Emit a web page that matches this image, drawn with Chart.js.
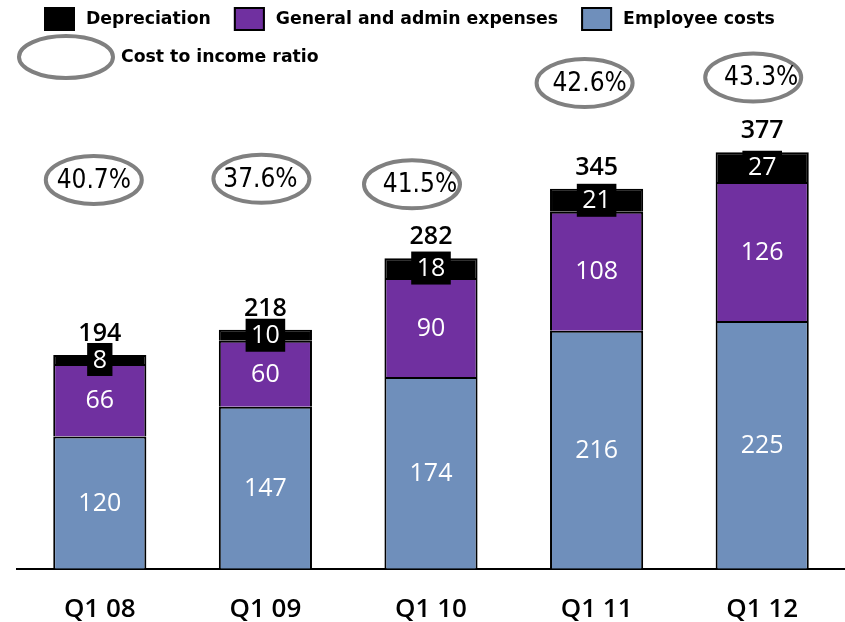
<!DOCTYPE html>
<html>
<head>
<meta charset="utf-8">
<script src="https://cdn.jsdelivr.net/npm/chart.js@4.4.1/dist/chart.umd.min.js"></script>
<style>
  html, body { margin: 0; padding: 0; background: #fff; }
</style>
</head>
<body>
<canvas id="costChart" width="845" height="622"></canvas>
<script>
// Cost breakdown per quarter
var quarters = ['Q1 08', 'Q1 09', 'Q1 10', 'Q1 11', 'Q1 12'];
var employeeCosts = [120, 147, 174, 216, 225];
var adminExpenses = [66, 60, 90, 108, 126];
var depreciation = [8, 10, 18, 21, 27];
var totalCosts = [194, 218, 282, 345, 377];
var costIncomeRatio = [40.7, 37.6, 41.5, 42.6, 43.3];

// Where the ratio ellipses sit (axis units for height, pixels for nudges)
var ellipseLevel = [353, 354, 349, 441, 446];
var ellipseDx = [-6, -4, -19, -12, -9];
var ellipseTextDx = [0, -1, 8, 5, 8];

var BLUE = '#6f8fbb';
var PURPLE = '#7030a0';
var GREY = '#808080';

// Value labels, totals and cost/income ellipses
var labelPlugin = {
    id: 'costLabels',
    afterDatasetsDraw: function (chart) {
        var ctx = chart.ctx;
        var yScale = chart.scales.y;
        ctx.save();
        ctx.textAlign = 'center';
        ctx.textBaseline = 'middle';
        ctx.font = '25px "Open Sans"';
        chart.data.datasets.forEach(function (ds, di) {
            chart.getDatasetMeta(di).data.forEach(function (bar, i) {
                var text = String(ds.data[i]);
                var cy = (bar.y + bar.base) / 2;
                if (di === 2) {
                    var w = ctx.measureText(text).width + 11;
                    ctx.fillStyle = '#000';
                    ctx.fillRect(bar.x - w / 2, cy - 16.5, w, 33);
                }
                ctx.fillStyle = '#fff';
                ctx.fillText(text, bar.x, cy + 1);
            });
        });

        // totals above the bars
        ctx.fillStyle = '#000';
        ctx.font = '600 25px "Open Sans"';
        ctx.textBaseline = 'alphabetic';
        chart.getDatasetMeta(2).data.forEach(function (bar, i) {
            ctx.fillText(String(totalCosts[i]), bar.x, bar.y - 14);
        });

        // cost to income ratio ellipses
        ctx.textBaseline = 'middle';
        chart.getDatasetMeta(0).data.forEach(function (bar, i) {
            var cx = bar.x + ellipseDx[i];
            var cy = yScale.getPixelForValue(ellipseLevel[i]);
            ctx.strokeStyle = GREY;
            ctx.lineWidth = 4;
            ctx.beginPath();
            ctx.ellipse(cx, cy, 48, 24, 0, 0, Math.PI * 2);
            ctx.stroke();
            ctx.fillStyle = '#000';
            ctx.font = '26px "DejaVu Sans Condensed"';
            ctx.fillText(costIncomeRatio[i].toFixed(1) + '%', cx + ellipseTextDx[i], cy + 1);
        });
        ctx.restore();
    },
    afterDraw: function (chart) {
        // legend, drawn by hand to keep the two-row layout
        var ctx = chart.ctx;
        ctx.save();
        ctx.font = 'bold 17.3px "DejaVu Sans"';
        ctx.textBaseline = 'middle';
        ctx.textAlign = 'left';
        var x = 44;
        [2, 1, 0].forEach(function (di) {
            var ds = chart.data.datasets[di];
            ctx.fillStyle = ds.backgroundColor;
            ctx.fillRect(x, 7, 31, 24);
            ctx.strokeStyle = '#000';
            ctx.lineWidth = 2;
            ctx.strokeRect(x + 1, 8, 29, 22);
            ctx.fillStyle = '#000';
            ctx.fillText(ds.label, x + 42, 20);
            x = x + 42 + ctx.measureText(ds.label).width + 23;
        });
        ctx.strokeStyle = GREY;
        ctx.lineWidth = 4;
        ctx.beginPath();
        ctx.ellipse(66, 57, 47, 21, 0, 0, Math.PI * 2);
        ctx.stroke();
        ctx.fillStyle = '#000';
        ctx.fillText('Cost to income ratio', 121, 58);
        ctx.restore();
    }
};

var ctx = document.getElementById('costChart').getContext('2d');

var costChart = new Chart(ctx, {
    type: 'bar',
    data: {
        labels: quarters,
        datasets: [
            { label: 'Employee costs', data: employeeCosts, backgroundColor: BLUE },
            { label: 'General and admin expenses', data: adminExpenses, backgroundColor: PURPLE },
            { label: 'Depreciation', data: depreciation, backgroundColor: '#000' }
        ]
    },
    options: {
        responsive: false,
        animation: false,
        layout: { padding: { top: 40, left: 17, right: 0, bottom: -28 } },
        datasets: {
            bar: {
                borderColor: '#000',
                borderWidth: 2,
                barPercentage: 0.5625,
                categoryPercentage: 1.0
            }
        },
        plugins: {
            legend: { display: false },
            tooltip: { enabled: false }
        },
        scales: {
            x: {
                stacked: true,
                grid: { display: false, drawTicks: false },
                border: { display: true, color: '#000', width: 2 },
                ticks: {
                    color: '#000',
                    padding: 25,
                    font: { family: 'Open Sans', size: 26, weight: '600' }
                }
            },
            y: {
                stacked: true,
                display: false,
                min: 0,
                max: 480
            }
        }
    },
    plugins: [labelPlugin]
});
</script>
</body>
</html>
